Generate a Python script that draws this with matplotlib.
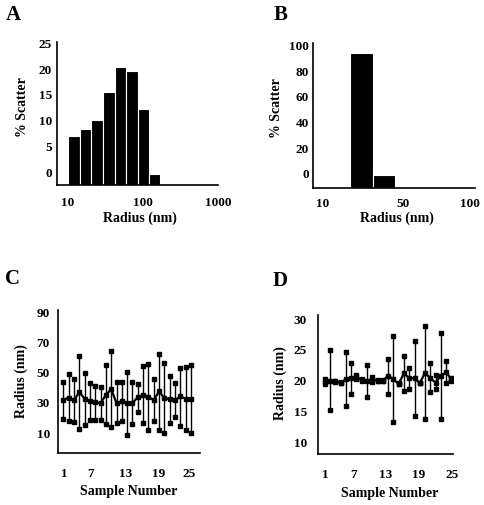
import numpy as np
import matplotlib
matplotlib.use("Agg")
import matplotlib.pyplot as plt

# ---- panel A: log-binned % scatter
a_edges = [10, 14.3, 20.5, 29.3, 42, 60, 86, 122, 166]
a_values = [7.1, 8.4, 10.1, 15.6, 20.5, 19.6, 12.3, -0.3]
a_yticks = [0, 5, 10, 15, 20, 25]
a_xticks = [10, 100, 1000]

# ---- panel B: two bins
b_edges = [23.5, 35, 46]
b_values = [94, -1]
b_yticks = [0, 20, 40, 60, 80, 100]
b_xticks = [10, 50, 100]

# ---- panel C: radius per sample (low / mean / high)
c_high = [43.8, 49.1, 45.6, 61.3, 50.2, 43.1, 41.4, 40.5, 55.3, 64.8, 43.8, 43.8, 50.7,
          43.8, 42.7, 54.6, 55.7, 46.2, 62.6, 56.4, 48.0, 43.1, 53.5, 54.2, 55.3]
c_mid = [31.9, 33.6, 31.7, 37.2, 32.8, 31.0, 30.3, 29.9, 35.2, 39.2, 29.9, 31.0, 29.9,
         29.9, 33.9, 35.4, 33.9, 31.9, 37.6, 33.2, 32.5, 31.7, 34.3, 32.8, 32.3]
c_low = [19.5, 17.7, 17.3, 12.9, 15.1, 18.8, 18.8, 18.8, 16.2, 14.0, 16.6, 18.2, 8.9,
         16.0, 23.9, 16.6, 12.2, 17.7, 12.2, 10.0, 16.6, 20.4, 14.9, 12.2, 10.0]
c_yticks = [10, 30, 50, 70, 90]

# ---- panel D
d_high = [20.2, 25.0, 20.0, 19.8, 24.6, 22.8, 21.0, 20.2, 22.5, 20.6, 20.1, 20.1, 23.6,
          27.2, 19.6, 24.1, 22.0, 26.5, 19.7, 28.9, 22.9, 21.0, 27.8, 23.2, 20.4]
d_mid = [19.8, 20.0, 19.9, 19.7, 20.2, 20.4, 20.6, 20.1, 20.0, 20.2, 20.0, 20.0, 20.8,
         20.2, 19.5, 21.2, 20.4, 20.4, 19.6, 21.3, 20.4, 19.7, 20.8, 21.4, 20.2]
d_low = [19.4, 15.2, 19.8, 19.6, 15.9, 17.8, 20.3, 20.0, 17.4, 19.8, 19.9, 19.9, 17.9,
         13.2, 19.4, 18.3, 18.6, 14.2, 19.6, 13.7, 18.1, 18.6, 13.7, 19.6, 20.0]
d_yticks = [10, 15, 20, 25, 30]

sample_labels = ["1", "7", "13", "19", "25"]
c_label_pos = [1.2, 6.2, 12.75, 19, 24.6]
d_label_pos = [1.1, 6.5, 12.6, 18.8, 25.1]

W, H = 485, 505
FONT = "Liberation Serif"
plt.rcParams["font.family"] = FONT
plt.rcParams["font.weight"] = "bold"

fig = plt.figure(figsize=(W / 100, H / 100), dpi=100)


def make_axes(left, right, top, bottom):
    ax = fig.add_axes([left / W, 1 - bottom / H, (right - left) / W, (bottom - top) / H])
    for side in ("top", "right"):
        ax.spines[side].set_visible(False)
    for side in ("left", "bottom"):
        ax.spines[side].set_linewidth(1.2)
    ax.tick_params(length=0, labelsize=9.5)
    return ax


def fig_text(x, y, s, size=10, rot=0):
    fig.text(x / W, 1 - y / H, s, ha="center", va="center", rotation=rot,
             fontsize=size, fontweight="bold", family=FONT)


# A
ax = make_axes(57, 218, 42, 185)
ax.set_xscale("log")
ybot = -2.5
lefts = np.array(a_edges[:-1])
widths = np.diff(a_edges)
ax.bar(lefts, np.array(a_values) - ybot, width=widths, bottom=ybot, align="edge",
       color="black", edgecolor="white", linewidth=0.8)
ax.set_xlim(7.13, 1000)
ax.set_ylim(ybot, 25.3)
ax.set_yticks(a_yticks)
ax.set_xticks(a_xticks)
ax.set_xticklabels([str(t) for t in a_xticks])
ax.xaxis.set_minor_locator(matplotlib.ticker.NullLocator())
ax.tick_params(axis="y", pad=3.6)
ax.tick_params(axis="x", pad=8.5)

# B: uneven label spacing, piecewise scale
b_val = [5, 10, 50, 100, 103.7]
b_pix = [0, 10, 90, 157, 162]


def b_fwd(x):
    return np.interp(x, b_val, b_pix)


def b_inv(x):
    return np.interp(x, b_pix, b_val)


ax = make_axes(313, 475, 43, 188)
ax.set_xscale("function", functions=(b_fwd, b_inv))
ybot = -11
ax.bar(b_edges[:-1], np.array(b_values) - ybot, width=np.diff(b_edges), bottom=ybot,
       align="edge", color="black", edgecolor="white", linewidth=0.8)
ax.set_xlim(5, 103.7)
ax.set_ylim(ybot, 102)
ax.set_yticks(b_yticks)
ax.set_xticks(b_xticks)
ax.set_xticklabels([str(t) for t in b_xticks])
ax.xaxis.set_minor_locator(matplotlib.ticker.NullLocator())
ax.tick_params(axis="y", pad=3)
ax.tick_params(axis="x", pad=7)


def range_plot(ax, high, mid, low):
    x = np.arange(1, len(mid) + 1)
    ax.vlines(x, low, high, color="black", linewidth=1.0)
    ax.plot(x, high, "s", color="black", ms=3.3)
    ax.plot(x, low, "s", color="black", ms=3.3)
    ax.plot(x, mid, "s-", color="black", ms=3.3, linewidth=1.6)


# C
ax = make_axes(58, 200, 310, 453)
range_plot(ax, c_high, c_mid, c_low)
ax.set_xlim(0, 26.7)
ax.set_ylim(-3.3, 91.8)
ax.set_yticks(c_yticks)
ax.set_xticks(c_label_pos)
ax.set_xticklabels(sample_labels)
ax.tick_params(axis="y", pad=5.8)
ax.tick_params(axis="x", pad=10.5)

# D
ax = make_axes(318, 453, 315, 454)
range_plot(ax, d_high, d_mid, d_low)
ax.set_xlim(-0.3, 25.3)
ax.set_ylim(8.05, 30.7)
ax.set_yticks(d_yticks)
ax.set_xticks(d_label_pos)
ax.set_xticklabels(sample_labels)
ax.tick_params(axis="y", pad=8)
ax.tick_params(axis="x", pad=11)

# labels
fig_text(13, 15, "A", size=15)
fig_text(281, 15, "B", size=15)
fig_text(13, 279, "C", size=15)
fig_text(280, 281, "D", size=15)

fig_text(23, 107, "% Scatter", rot=90)
fig_text(277, 108, "% Scatter", rot=90)
fig_text(21, 381, "Radius (nm)", rot=90)
fig_text(280, 383, "Radius (nm)", rot=90)

fig_text(140, 218, "Radius (nm)")
fig_text(397, 218, "Radius (nm)")
fig_text(129, 492, "Sample Number")
fig_text(390, 493, "Sample Number")

fig.savefig("out.png", dpi=100)
